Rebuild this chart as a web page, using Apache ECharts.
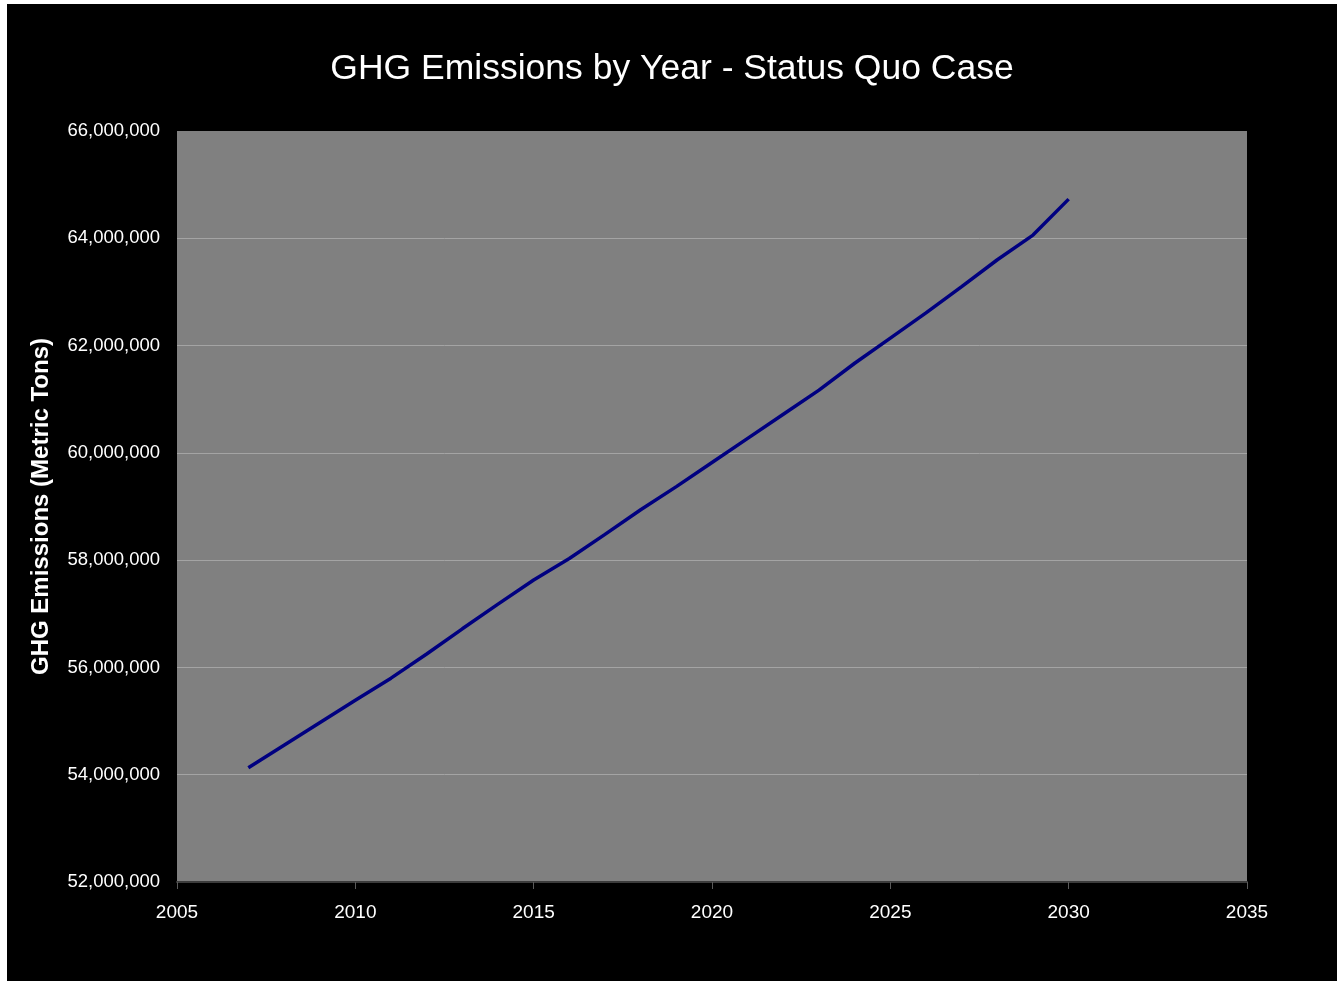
<!DOCTYPE html>
<html>
<head>
<meta charset="utf-8">
<title>GHG Emissions by Year - Status Quo Case</title>
<script src="https://cdn.jsdelivr.net/npm/echarts@6/dist/echarts.min.js"></script>
<style>
  html, body { margin: 0; padding: 0; background: #ffffff; }
  #chart { width: 1344px; height: 983px; }
</style>
</head>
<body>
<div id="chart"></div>
<script>
// Projected greenhouse-gas emissions, status quo case (metric tons)
const years = [2007, 2008, 2009, 2010, 2011, 2012, 2013, 2014, 2015, 2016, 2017, 2018,
               2019, 2020, 2021, 2022, 2023, 2024, 2025, 2026, 2027, 2028, 2029, 2030];
const emissions = [54130000, 54550000, 54970000, 55390000, 55800000, 56250000, 56720000, 57180000,
                   57630000, 58030000, 58480000, 58940000, 59370000, 59820000, 60270000, 60720000,
                   61170000, 61670000, 62140000, 62610000, 63100000, 63600000, 64060000, 64730000];
const yTicks = [52000000, 54000000, 56000000, 58000000, 60000000, 62000000, 64000000, 66000000];
const xTicks = [2005, 2010, 2015, 2020, 2025, 2030, 2035];

const fmt = v => Math.round(v).toLocaleString('en-US');
const font = '"Liberation Sans", Arial, sans-serif';

const chart = echarts.init(document.getElementById('chart'), null, { renderer: 'canvas' });
chart.setOption({
  backgroundColor: '#ffffff',
  animation: false,
  graphic: [{
    type: 'rect', z: -10, silent: true,
    shape: { x: 7, y: 4, width: 1330, height: 977 },
    style: { fill: '#000000' }
  }],
  title: {
    text: 'GHG Emissions by Year - Status Quo Case',
    left: 'center', top: 46,
    textStyle: { color: '#ffffff', fontFamily: font, fontSize: 35.5, fontWeight: 'normal' }
  },
  grid: {
    left: 177, top: 131, width: 1070, height: 751,
    show: true, backgroundColor: '#808080', borderWidth: 0
  },
  xAxis: {
    type: 'value',
    min: xTicks[0], max: xTicks[xTicks.length - 1], interval: 5,
    axisLine: { show: true, lineStyle: { color: '#3c3c3c', width: 2 } },
    axisTick: { show: true, length: 7, lineStyle: { color: '#5a5a5a', width: 1 } },
    axisLabel: { color: '#ffffff', fontFamily: font, fontSize: 19, margin: 21, formatter: v => String(v) },
    splitLine: { show: false }
  },
  yAxis: {
    type: 'value',
    min: yTicks[0], max: yTicks[yTicks.length - 1], interval: 2000000,
    axisLine: { show: false },
    axisTick: { show: false },
    axisLabel: { color: '#ffffff', fontFamily: font, fontSize: 18.5, margin: 17, formatter: fmt },
    splitLine: { show: true, showMinLine: false, showMaxLine: false, lineStyle: { color: '#a4a4a4', width: 1 } },
    name: 'GHG Emissions (Metric Tons)',
    nameLocation: 'middle', nameRotate: 90, nameGap: 124,
    nameTextStyle: { color: '#ffffff', fontFamily: font, fontSize: 24, fontWeight: 'bold' }
  },
  series: [{
    type: 'line',
    data: years.map((y, i) => [y, emissions[i]]),
    showSymbol: false,
    lineStyle: { color: '#000080', width: 3.5 },
    itemStyle: { color: '#000080' }
  }]
});
</script>
</body>
</html>
